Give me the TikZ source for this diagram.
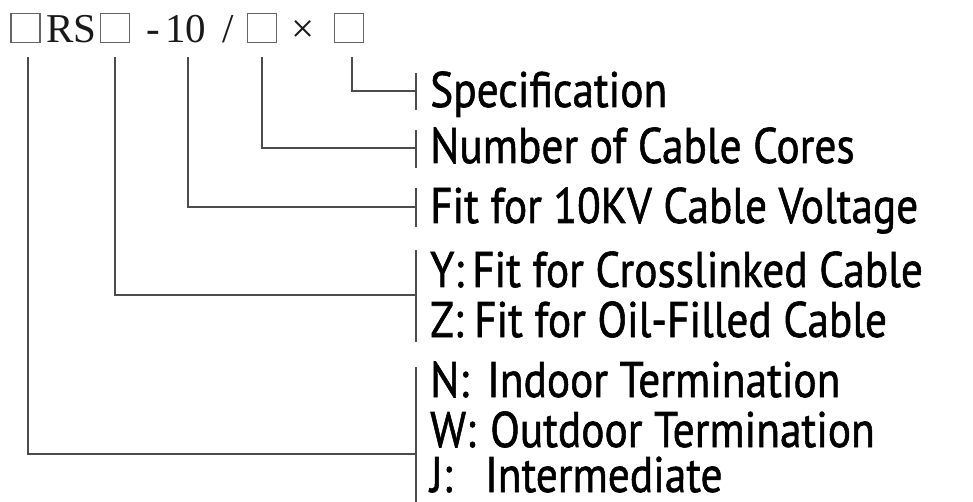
\documentclass[tikz,border=0pt]{standalone}
\usepackage{fontspec}
\setmainfont{Liberation Serif}
\newfontfamily\lblfont[FakeBold=1.2]{PT Sans}
\usepackage{graphicx}
\newlength\refw
\newlength\refh
\newcommand\lbl[1]{\scalebox{\sx}[\sy]{\lblfont\fontsize{50}{50}\selectfont #1}}
\newcommand\code[1]{{\fontsize{41}{41}\selectfont #1}}
\begin{document}
\settowidth\refw{\lblfont\fontsize{50}{50}\selectfont Fit for 10KV Cable Voltage}%
\settoheight\refh{\lblfont\fontsize{50}{50}\selectfont F}%
\pgfmathsetmacro\sx{488/\refw}%
\pgfmathsetmacro\sy{35/\refh}%
\begin{tikzpicture}[x=1pt,y=-1pt,
  conn/.style={draw=black!70, line width=1.5pt},
  bar/.style={draw=black!70, line width=1.5pt},
  slot/.style={draw=black!60, line width=1.4pt, minimum width=29pt, minimum height=29pt, inner sep=0pt},
  lab/.style={anchor=base west, inner sep=0pt, text=black},
  codet/.style={anchor=base west, inner sep=0pt, text=black!90}]
\useasboundingbox[fill=white] (0,0) rectangle (973,502);
% code line
\node[slot] (b1) at (25.5,28) {};
\node[codet] (rs) at (46,43) {\code{RS}};
\node[slot] (b2) at (115,28) {};
\node[codet] (dash) at (146,43) {\code{-}};
\node[codet] (ten) at (165,43) {\code{10}};
\node[codet] (slash) at (222,43) {\code{/}};
\node[slot] (b3) at (262,28) {};
\node[codet] (times) at (291,43) {\code{×}};
\node[slot] (b4) at (349,28) {};
% connector starts
\coordinate (s1) at (28,57);
\coordinate (s2) at (115,57);
\coordinate (s3) at (188,57);
\coordinate (s4) at (262,57);
\coordinate (s5) at (352,57);
% labels
\node[lab] (spec) at (430,107) {\lbl{Specification}};
\node[lab] (num) at (430,163) {\lbl{Number of Cable Cores}};
\node[lab] (fit) at (430,223) {\lbl{Fit for 10KV Cable Voltage}};
\node[lab] (ykey) at (430,287) {\lbl{Y:}};
\node[lab] (yval) at (472,287) {\lbl{Fit for Crosslinked Cable}};
\node[lab] (zkey) at (430,337) {\lbl{Z:}};
\node[lab] (zval) at (474,337) {\lbl{Fit for Oil-Filled Cable}};
\node[lab] (nkey) at (430,397) {\lbl{N:}};
\node[lab] (nval) at (487,397) {\lbl{Indoor Termination}};
\node[lab] (wkey) at (430,447) {\lbl{W:}};
\node[lab] (wval) at (490,447) {\lbl{Outdoor Termination}};
\node[lab] (jkey) at (430,492) {\lbl{J:}};
\node[lab] (jval) at (485,492) {\lbl{Intermediate}};
% bars
\coordinate (t5a) at (416,73);  \coordinate (t5b) at (416,110); \coordinate (t5) at (416,91);
\coordinate (t4a) at (416,130); \coordinate (t4b) at (416,168); \coordinate (t4) at (416,148);
\coordinate (t3a) at (416,188); \coordinate (t3b) at (416,227); \coordinate (t3) at (416,207);
\coordinate (t2a) at (416,250); \coordinate (t2b) at (416,342); \coordinate (t2) at (416,295);
\coordinate (t1a) at (416,367); \coordinate (t1b) at (416,502); \coordinate (t1) at (416,454);
\foreach \i in {1,...,5} {\draw[bar] (t\i a) -- (t\i b);}
% connectors
\draw[conn] (s5) |- (t5);
\draw[conn] (s4) |- (t4);
\draw[conn] (s3) |- (t3);
\draw[conn] (s2) |- (t2);
\draw[conn] (s1) |- (t1);
\end{tikzpicture}
\end{document}
